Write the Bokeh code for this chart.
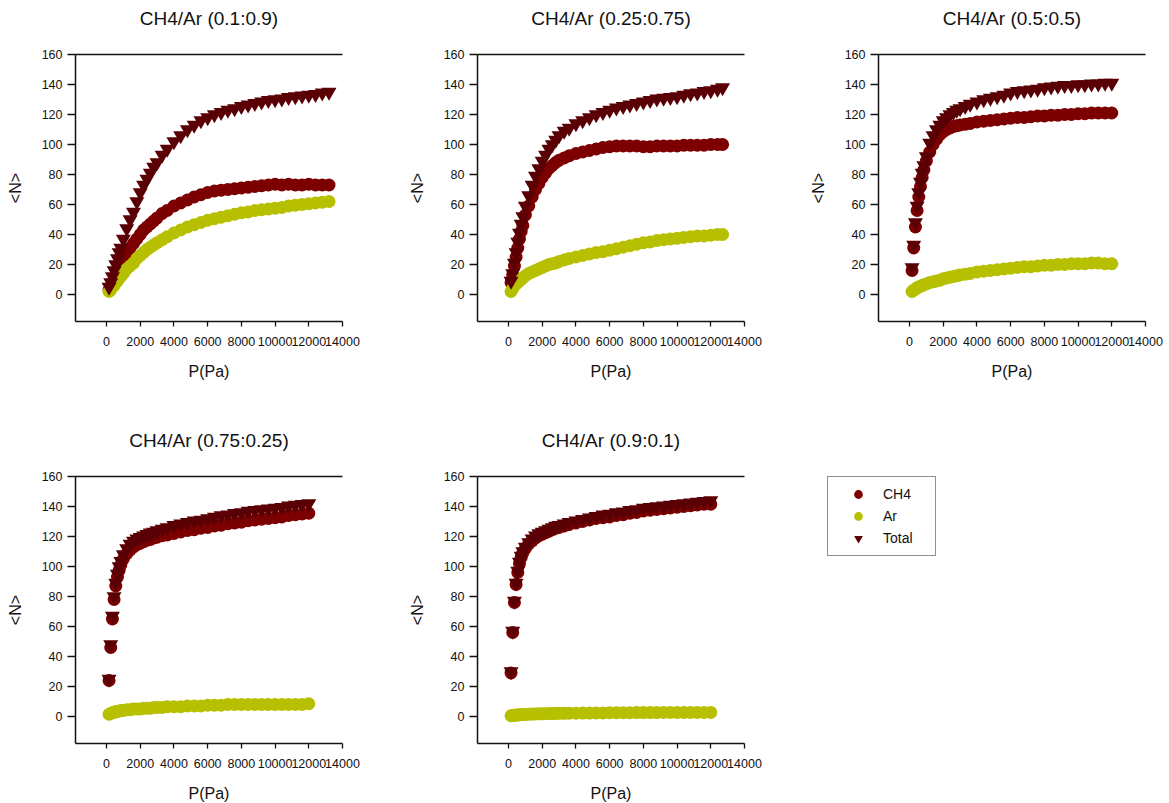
from bokeh.plotting import figure
from bokeh.models import (LinearAxis, FixedTicker, Range1d, Legend, ColumnDataSource)
from bokeh.layouts import column, row
from bokeh.embed import file_html
from bokeh.resources import INLINE

# ---------------- data ----------------
titles = ["CH4/Ar (0.1:0.9)", "CH4/Ar (0.25:0.75)", "CH4/Ar (0.5:0.5)",
          "CH4/Ar (0.75:0.25)", "CH4/Ar (0.9:0.1)"]
series_names = ["CH4", "Ar", "Total"]
x_ticks = [0, 2000, 4000, 6000, 8000, 10000, 12000, 14000]
y_ticks = [0, 20, 40, 60, 80, 100, 120, 140, 160]

P_base = [150, 250, 350, 450, 550, 650, 750, 850, 1000, 1200, 1400, 1600, 1800,
          2000, 2200, 2400, 2600, 2800, 3000, 3300, 3600, 4000, 4400, 4800, 5200,
          5600, 6000, 6400, 6800, 7200, 7600, 8000, 8400, 8800, 9200, 9600, 10000,
          10400, 10800, 11200, 11600, 12000]
P1 = P_base + [12400, 12800, 13200]
P2 = P_base + [12400, 12700]
P3 = P_base
P4 = P_base
P5 = P_base

# panel 1 (0.1:0.9)
ch4_1 = [3, 5, 8, 10, 12, 14, 17, 19, 23, 27, 31, 34, 37, 40, 43, 45, 47, 49, 51,
         54, 56, 59, 61, 63, 65, 66.5, 68, 69, 69.5, 70, 70.5, 71, 71.5, 72, 72.5,
         73, 73.5, 73, 73.5, 73, 73, 73.5, 73, 73, 73]
ar_1 = [2, 3, 5, 6, 8, 9, 11, 12, 14, 17, 19, 21, 24, 26, 28, 30, 31.5, 33, 34.5,
        36.5, 38.5, 41, 43, 45, 46.5, 48, 49.5, 50.5, 51.5, 52.5, 53.5, 54.5, 55,
        56, 56.5, 57, 57.5, 58, 59, 59.5, 60, 60.5, 61, 61.5, 62]
total_1 = [5, 8, 12, 16, 20, 24, 28, 31, 37, 44, 50, 55, 62, 68, 73, 77, 81, 85,
           88, 93, 97, 102, 106, 110, 113, 116, 118, 120, 121.5, 123, 124, 125.5,
           126.5, 127.5, 128.5, 129.5, 130, 130.5, 131.5, 132, 132.5, 133, 133.5,
           134.5, 135]

# panel 2 (0.25:0.75)
ch4_2 = [8, 13, 19, 25, 31, 37, 42, 46, 53, 59, 65, 70, 74, 78, 81, 84, 86, 88,
         89.5, 91, 92.5, 94, 95, 96, 97, 98, 98.5, 99, 99, 99, 99, 98.5, 98.5, 99,
         99, 99, 99, 99.5, 99.5, 99.5, 99.5, 100, 100, 100]
ar_2 = [2, 4, 6, 7, 8, 9, 10, 11, 12.5, 14, 15, 16, 17, 18, 19, 20, 20.5, 21, 22,
        23, 24, 25, 26, 27, 28, 28.5, 29.5, 30.5, 31.5, 32.5, 33.5, 34.5, 35, 36,
        36.5, 37, 37.5, 38, 38.5, 39, 39, 39.5, 40, 40]
total_2 = [9, 14, 21, 28, 35, 41, 47, 52, 59, 66, 73, 79, 84, 89, 93, 97, 100, 103,
           106, 109, 111, 114, 116, 118, 120, 121.5, 123, 124.5, 125.5, 126.5,
           127.5, 128.5, 129.5, 130.5, 131, 131.5, 132, 133, 134, 134.5, 135.5,
           136, 137, 138]

# panel 3 (0.5:0.5)
ch4_3 = [16, 31, 45, 56, 65, 72, 78, 83, 89, 95, 100, 103.5, 106.5, 108.5, 110,
         111, 112, 112.5, 113, 113.5, 114, 115, 115.5, 116, 116.5, 117, 117.5, 118,
         118, 118.5, 119, 119, 119.5, 119.5, 120, 120, 120.5, 120.5, 121, 121, 121,
         121]
ar_3 = [2, 3, 3.5, 4.5, 5, 5.5, 6, 6.5, 7, 8, 8.5, 9, 9.5, 10.5, 11, 11.5, 12,
        12.5, 13, 13.5, 14, 15, 15.5, 16, 16.5, 17, 17.5, 18, 18.5, 18.5, 19, 19.5,
        19.5, 20, 20, 20.5, 20.5, 20.5, 21, 21, 20.5, 20.5]
total_3 = [18, 33, 48, 59, 68, 75, 81, 86, 92, 101, 106, 110, 113, 116, 118, 120,
           121.5, 123, 124, 125.5, 127, 128.5, 130, 131, 132, 133, 134.5, 135.5,
           136, 136.5, 137, 138, 138.5, 139, 139.5, 139.5, 140, 140, 140.5, 140.5,
           141, 141]

# panel 4 (0.75:0.25)
ch4_4 = [24, 46, 65, 78, 87, 93, 97.5, 101, 105, 108.5, 111, 113, 114.5, 115.5,
         116.5, 117.5, 118, 119, 119.5, 120.5, 121, 122, 123, 124, 124.5, 125.5,
         126, 127, 127.5, 128.5, 129, 129.5, 130.5, 131, 131.5, 132, 132.5, 133,
         134, 134.5, 135, 135.5]
ar_4 = [1.5, 2, 2.5, 3, 3, 3.5, 3.5, 4, 4, 4.5, 4.5, 5, 5, 5, 5.5, 5.5, 5.5, 6, 6,
        6, 6.5, 6.5, 6.5, 7, 7, 7, 7.5, 7.5, 7.5, 8, 8, 8, 8, 8, 8, 8, 8, 8, 8, 8,
        8, 8.5]
total_4 = [25, 48, 67, 80, 89, 95, 100, 103.5, 108, 112, 115, 117, 118.5, 119.5,
           120.5, 121.5, 122.5, 123, 124, 125, 126, 127.5, 128.5, 129.5, 130.5,
           131, 132, 133, 134, 134.5, 135.5, 136, 137, 137.5, 138, 138.5, 139,
           139.5, 140.5, 141, 141.5, 142]

# panel 5 (0.9:0.1)
ch4_5 = [29, 56, 76, 88, 96, 102, 106, 109, 112, 115, 117, 119, 120.5, 121.5,
         122.5, 123.5, 124.5, 125.5, 126, 127, 128, 129, 130, 131, 132, 132.5, 133,
         134, 134.5, 135.5, 136, 137, 137.5, 138, 138.5, 139, 139.5, 140, 140.5,
         141, 141.5, 141.5]
ar_5 = [0.5, 0.7, 0.8, 1, 1, 1.1, 1.2, 1.3, 1.4, 1.5, 1.6, 1.7, 1.8, 1.8, 1.9, 2,
        2, 2, 2.1, 2.1, 2.2, 2.2, 2.3, 2.3, 2.4, 2.4, 2.5, 2.5, 2.5, 2.5, 2.6, 2.6,
        2.6, 2.6, 2.7, 2.7, 2.7, 2.7, 2.7, 2.7, 2.7, 2.7]
total_5 = [30, 57, 77, 89, 97, 103, 107, 110, 113, 116, 118.5, 120.5, 122, 123,
           124, 125, 126, 127, 127.5, 128.5, 129.5, 130.5, 131.5, 132.5, 133.5,
           134.5, 135, 136, 136.5, 137.5, 138, 139, 139.5, 140, 140.5, 141, 141.5,
           142, 142.5, 143, 143.5, 144]

# ---------------- style ----------------
FONT = "Liberation Sans"
C_CH4 = "#7d0000"
C_AR = "#b7c000"
C_TOT = "#5a0005"
FRAME = 267
MARKERS = ["circle", "circle", "inverted_triangle"]
COLORS = [C_CH4, C_AR, C_TOT]
SIZES = [13, 13, 15]
COLS = ["ch4", "ar", "tot"]


def make_panel(title, P, ch4, ar, tot, right, bottom):
    p = figure(frame_width=FRAME, frame_height=FRAME, title=None,
               x_range=Range1d(-1840, 14000), y_range=Range1d(-18, 160),
               output_backend="svg", toolbar_location=None,
               min_border_left=75, min_border_right=right,
               min_border_top=54, min_border_bottom=bottom,
               x_axis_label="P(Pa)", y_axis_label="<N>")
    p.xgrid.visible = False
    p.ygrid.visible = False
    p.outline_line_color = None
    p.background_fill_color = "white"
    p.border_fill_color = "white"

    xa = p.xaxis[0]
    xa.ticker = FixedTicker(ticks=x_ticks)
    xa.major_tick_out = 5
    xa.major_tick_in = 0
    xa.minor_tick_line_color = None
    xa.major_label_standoff = 10
    xa.axis_label_standoff = 14

    ya = p.yaxis[0]
    ya.ticker = FixedTicker(ticks=y_ticks)
    ya.major_tick_out = 8
    ya.major_tick_in = 0
    ya.minor_tick_line_color = None
    ya.major_label_standoff = 5
    ya.axis_label_standoff = 15

    for ax in (xa, ya):
        ax.axis_line_width = 1.5
        ax.axis_line_color = "#111111"
        ax.major_tick_line_width = 1.3
        ax.major_tick_line_color = "#111111"
        ax.major_label_text_font = FONT
        ax.major_label_text_font_size = "12.5px"
        ax.major_label_text_color = "#111111"
        ax.axis_label_text_font = FONT
        ax.axis_label_text_font_size = "16px"
        ax.axis_label_text_font_style = "normal"
        ax.axis_label_text_color = "#111111"

    # top frame line without ticks, carrying the panel title as its label
    top = LinearAxis(ticker=FixedTicker(ticks=[]), major_tick_out=0,
                     major_tick_in=0, minor_tick_out=0, minor_tick_in=0,
                     major_label_standoff=0,
                     axis_line_width=1.5, axis_line_color="#111111",
                     axis_label=title, axis_label_standoff=26,
                     axis_label_text_font=FONT,
                     axis_label_text_font_size="19px",
                     axis_label_text_font_style="normal",
                     axis_label_text_color="#111111")
    p.add_layout(top, "above")

    src = ColumnDataSource(dict(P=P, ch4=ch4, ar=ar, tot=tot))
    for col, m, c, s in zip(COLS, MARKERS, COLORS, SIZES):
        p.scatter("P", col, source=src, marker=m, size=s,
                  fill_color=c, line_color=None)
    return p, src


p1, _ = make_panel(titles[0], P1, ch4_1, ar_1, total_1, 60, 101)
p2, _ = make_panel(titles[1], P2, ch4_2, ar_2, total_2, 59, 101)
p3, _ = make_panel(titles[2], P3, ch4_3, ar_3, total_3, 24, 101)
p4, _ = make_panel(titles[3], P4, ch4_4, ar_4, total_4, 60, 60)
p5, src5 = make_panel(titles[4], P5, ch4_5, ar_5, total_5, 59, 60)

# legend panel (its frame lines up with the neighbouring panels' frames);
# the legend renderers are hidden, they only provide the legend glyphs
p6 = figure(width=366, height=381, x_range=Range1d(0, 1), y_range=Range1d(0, 1),
            output_backend="svg", toolbar_location=None, title=None,
            x_axis_location=None, y_axis_location=None,
            min_border=0, outline_line_color=None)
p6.xgrid.visible = False
p6.ygrid.visible = False
leg_rs = []
for col, m, c, s in zip(COLS, MARKERS, COLORS, SIZES):
    leg_rs.append(p6.scatter("P", col, source=src5, marker=m, size=s,
                             fill_color=c, line_color=None, visible=False))

legend = Legend(items=[(series_names[i], [leg_rs[i]]) for i in range(3)],
                location=(24, 186),
                border_line_color="#222222", border_line_width=1.5,
                background_fill_color="white", background_fill_alpha=1,
                inactive_fill_alpha=0,
                padding=6, spacing=0, margin=0,
                glyph_width=48, glyph_height=22,
                label_height=22, label_width=46, label_standoff=1,
                label_text_font=FONT, label_text_font_size="14px",
                label_text_color="#111111")
p6.add_layout(legend, "center")

layout = column(row(p1, p2, p3), row(p4, p5, p6))

open("out.html", "w").write(file_html(layout, INLINE))
